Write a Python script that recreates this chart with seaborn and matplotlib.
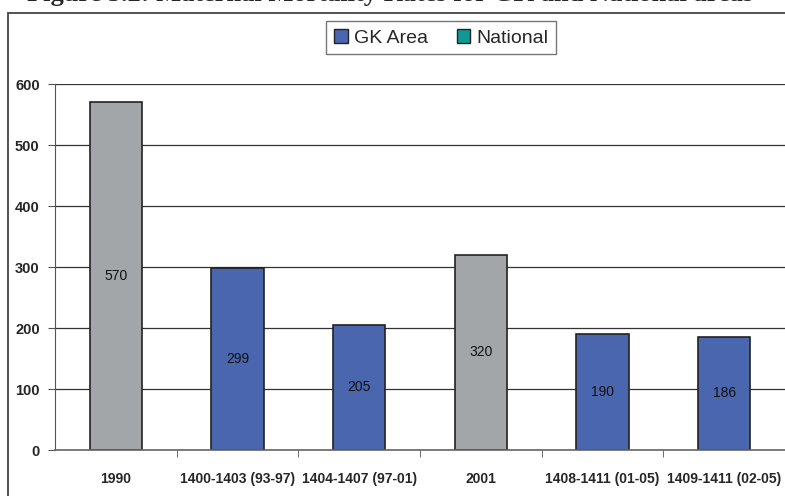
import numpy as np
import pandas as pd
import matplotlib.pyplot as plt
import matplotlib.patches as mpatches
import seaborn as sns

sns.set_style("white")
plt.rcParams['font.family'] = ['Liberation Sans Narrow', 'Liberation Sans', 'DejaVu Sans']

# Data
categories = ['1990', '1400-1403 (93-97)', '1404-1407 (97-01)', '2001',
              '1408-1411 (01-05)', '1409-1411 (02-05)']
rates = [570, 299, 205, 320, 190, 186]
sources = ['National', 'GK Area', 'GK Area', 'National', 'GK Area', 'GK Area']

df = pd.DataFrame({'Period': categories, 'Rate': rates, 'Source': sources})

bar_colors = {'National': '#a3a6a9', 'GK Area': '#4a66ae'}
legend_colors = {'GK Area': '#4a66ae', 'National': '#0d9a94'}

fig = plt.figure(figsize=(7.85, 4.96), dpi=100)
ax = fig.add_axes([0.070, 0.0927, 0.93, 0.7379])

sns.barplot(data=df, x='Period', y='Rate', hue='Period',
            palette=[bar_colors[s] for s in sources], legend=False, saturation=1,
            width=0.43, edgecolor='#222222', linewidth=1.2, ax=ax)

ax.set_ylim(0, 600)
ax.set_xlim(-0.5, 5.5)
ax.set_yticks(range(0, 601, 100))
ax.set_xlabel('')
ax.set_ylabel('')

# Horizontal gridlines behind the bars
ax.set_axisbelow(True)
ax.yaxis.grid(True, color='#333333', linewidth=0.9)
ax.xaxis.grid(False)

for side in ['top', 'right']:
    ax.spines[side].set_visible(False)
ax.spines['left'].set_color('#555555')
ax.spines['bottom'].set_color('#666666')
ax.spines['bottom'].set_linewidth(1.2)

ax.tick_params(axis='y', which='major', left=True, length=5, color='#555555',
               labelsize=10.5, pad=6)
ax.tick_params(axis='x', which='major', bottom=False, labelsize=10, pad=12)
for lbl in ax.get_xticklabels() + ax.get_yticklabels():
    lbl.set_fontweight('bold')

# Minor ticks between categories on x axis
ax.set_xticks(np.arange(0.5, 5.5, 1), minor=True)
ax.tick_params(axis='x', which='minor', bottom=True, length=5, color='#555555')

# Value labels centred in the bars
for i, v in enumerate(rates):
    ax.text(i, v / 2, str(v), ha='center', va='center', fontsize=10, color='#111111')

# Legend
handles = [mpatches.Patch(facecolor=c, edgecolor='#222222', label=k)
           for k, c in legend_colors.items()]
leg = fig.legend(handles=handles, loc='center', bbox_to_anchor=(0.562, 0.924),
                 ncol=2, frameon=True, fancybox=False, fontsize=14,
                 handlelength=0.7, handleheight=0.7, handletextpad=0.3,
                 columnspacing=1.5, borderpad=0.4)
leg.get_frame().set_edgecolor('#555555')
leg.get_frame().set_linewidth(1.0)

# Outer chart frame (clipped by the image edge on right and bottom)
frame = mpatches.Rectangle((0.0102, -0.05), 1.2, 1.0238, transform=fig.transFigure,
                           fill=False, edgecolor='#444444', linewidth=1.3)
fig.patches.append(frame)

# Title, mostly cut off at the top edge as in the reference
fig.text(0.497, 0.9975, 'Figure 3.2: Maternal Mortality Rates for GK and National areas',
         ha='center', va='baseline', fontsize=19, fontweight='bold',
         family=['Liberation Serif', 'DejaVu Serif'])

fig.savefig('out.png', dpi=100)
